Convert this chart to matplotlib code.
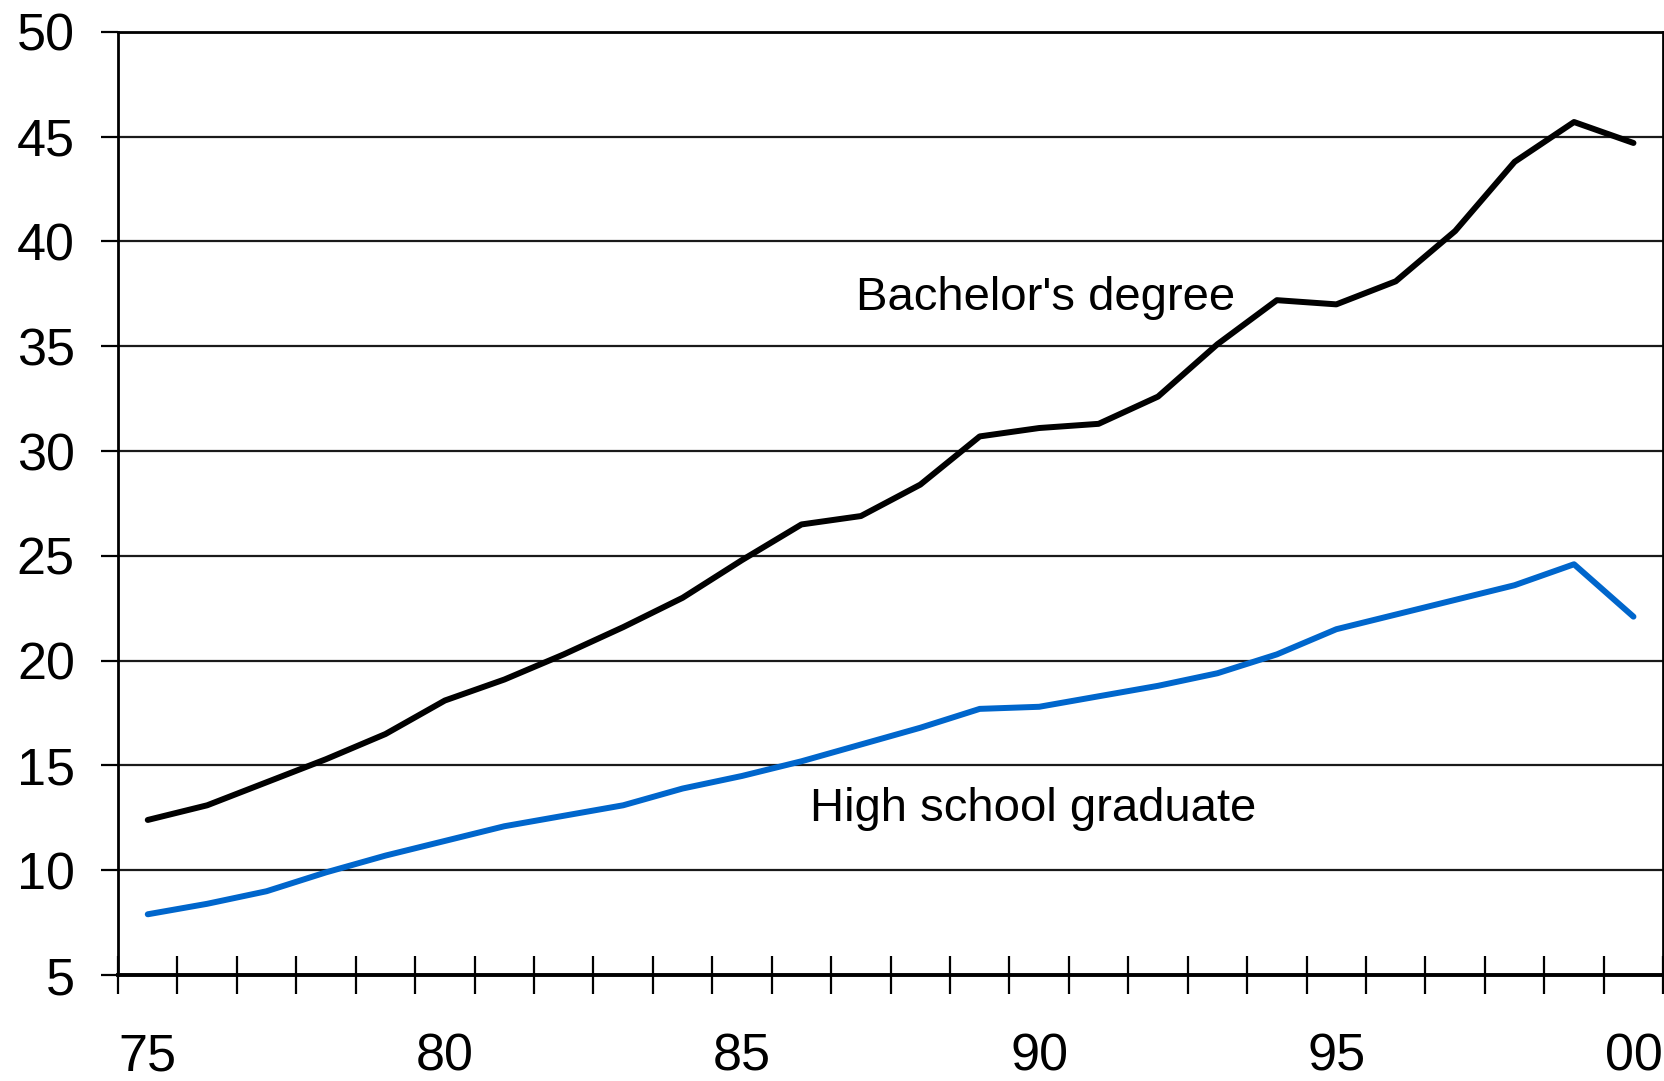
import matplotlib
matplotlib.use("Agg")
import matplotlib.pyplot as plt
import numpy as np

plt.rcParams['font.family'] = ['Liberation Sans', 'DejaVu Sans']

# years 1975..2000, shown as two-digit labels
years = np.arange(1975, 2001)
bachelors = [12.4, 13.1, 14.2, 15.3, 16.5, 18.1, 19.1, 20.3, 21.6, 23.0,
             24.8, 26.5, 26.9, 28.4, 30.7, 31.1, 31.3, 32.6, 35.1, 37.2,
             37.0, 38.1, 40.5, 43.8, 45.7, 44.7]
high_school = [7.9, 8.4, 9.0, 9.9, 10.7, 11.4, 12.1, 12.6, 13.1, 13.9,
               14.5, 15.2, 16.0, 16.8, 17.7, 17.8, 18.3, 18.8, 19.4, 20.3,
               21.5, 22.2, 22.9, 23.6, 24.6, 22.1]
label_years = [1975, 1980, 1985, 1990, 1995, 2000]
label_text = ['75', '80', '85', '90', '95', '00']
y_ticks = [5, 10, 15, 20, 25, 30, 35, 40, 45, 50]

fig = plt.figure(figsize=(16.65, 10.81), dpi=100, facecolor='w')
ax = fig.add_axes([0.0709, 0.098, 0.928, 0.8725])

ax.plot(years, bachelors, color='black', lw=4.3, solid_capstyle='round', zorder=3)
ax.plot(years, high_school, color='#0066CC', lw=4.3, solid_capstyle='round', zorder=3)

ax.set_xlim(1974.5, 2000.5)
ax.set_ylim(5, 50)

# y axis
ax.set_yticks(y_ticks)
ax.set_yticklabels([str(v) for v in y_ticks], fontsize=37.5)
ax.tick_params(axis='y', direction='out', length=12, width=1.6, pad=19)
ax.yaxis.grid(True, color='#1a1a1a', lw=1.6)
ax.set_axisbelow(True)

# x axis: tick marks between categories, labels on the categories
ax.set_xticks(np.arange(1974.5, 2001, 1.0))
ax.set_xticklabels([])
ax.tick_params(axis='x', which='major', direction='inout', length=27, width=1.6)
ax.set_xticks(label_years, minor=True)
ax.set_xticklabels(label_text, minor=True, fontsize=37.5)
ax.tick_params(axis='x', which='minor', length=0, pad=41)

for s in ax.spines.values():
    s.set_linewidth(2.0)
ax.spines['bottom'].set_linewidth(2.8)

ax.text(1990.1, 37.3, "Bachelor's degree", fontsize=34, ha='center', va='center')
ax.text(1989.9, 12.9, "High school graduate", fontsize=34, ha='center', va='center')

fig.savefig('out.png', dpi=100)
